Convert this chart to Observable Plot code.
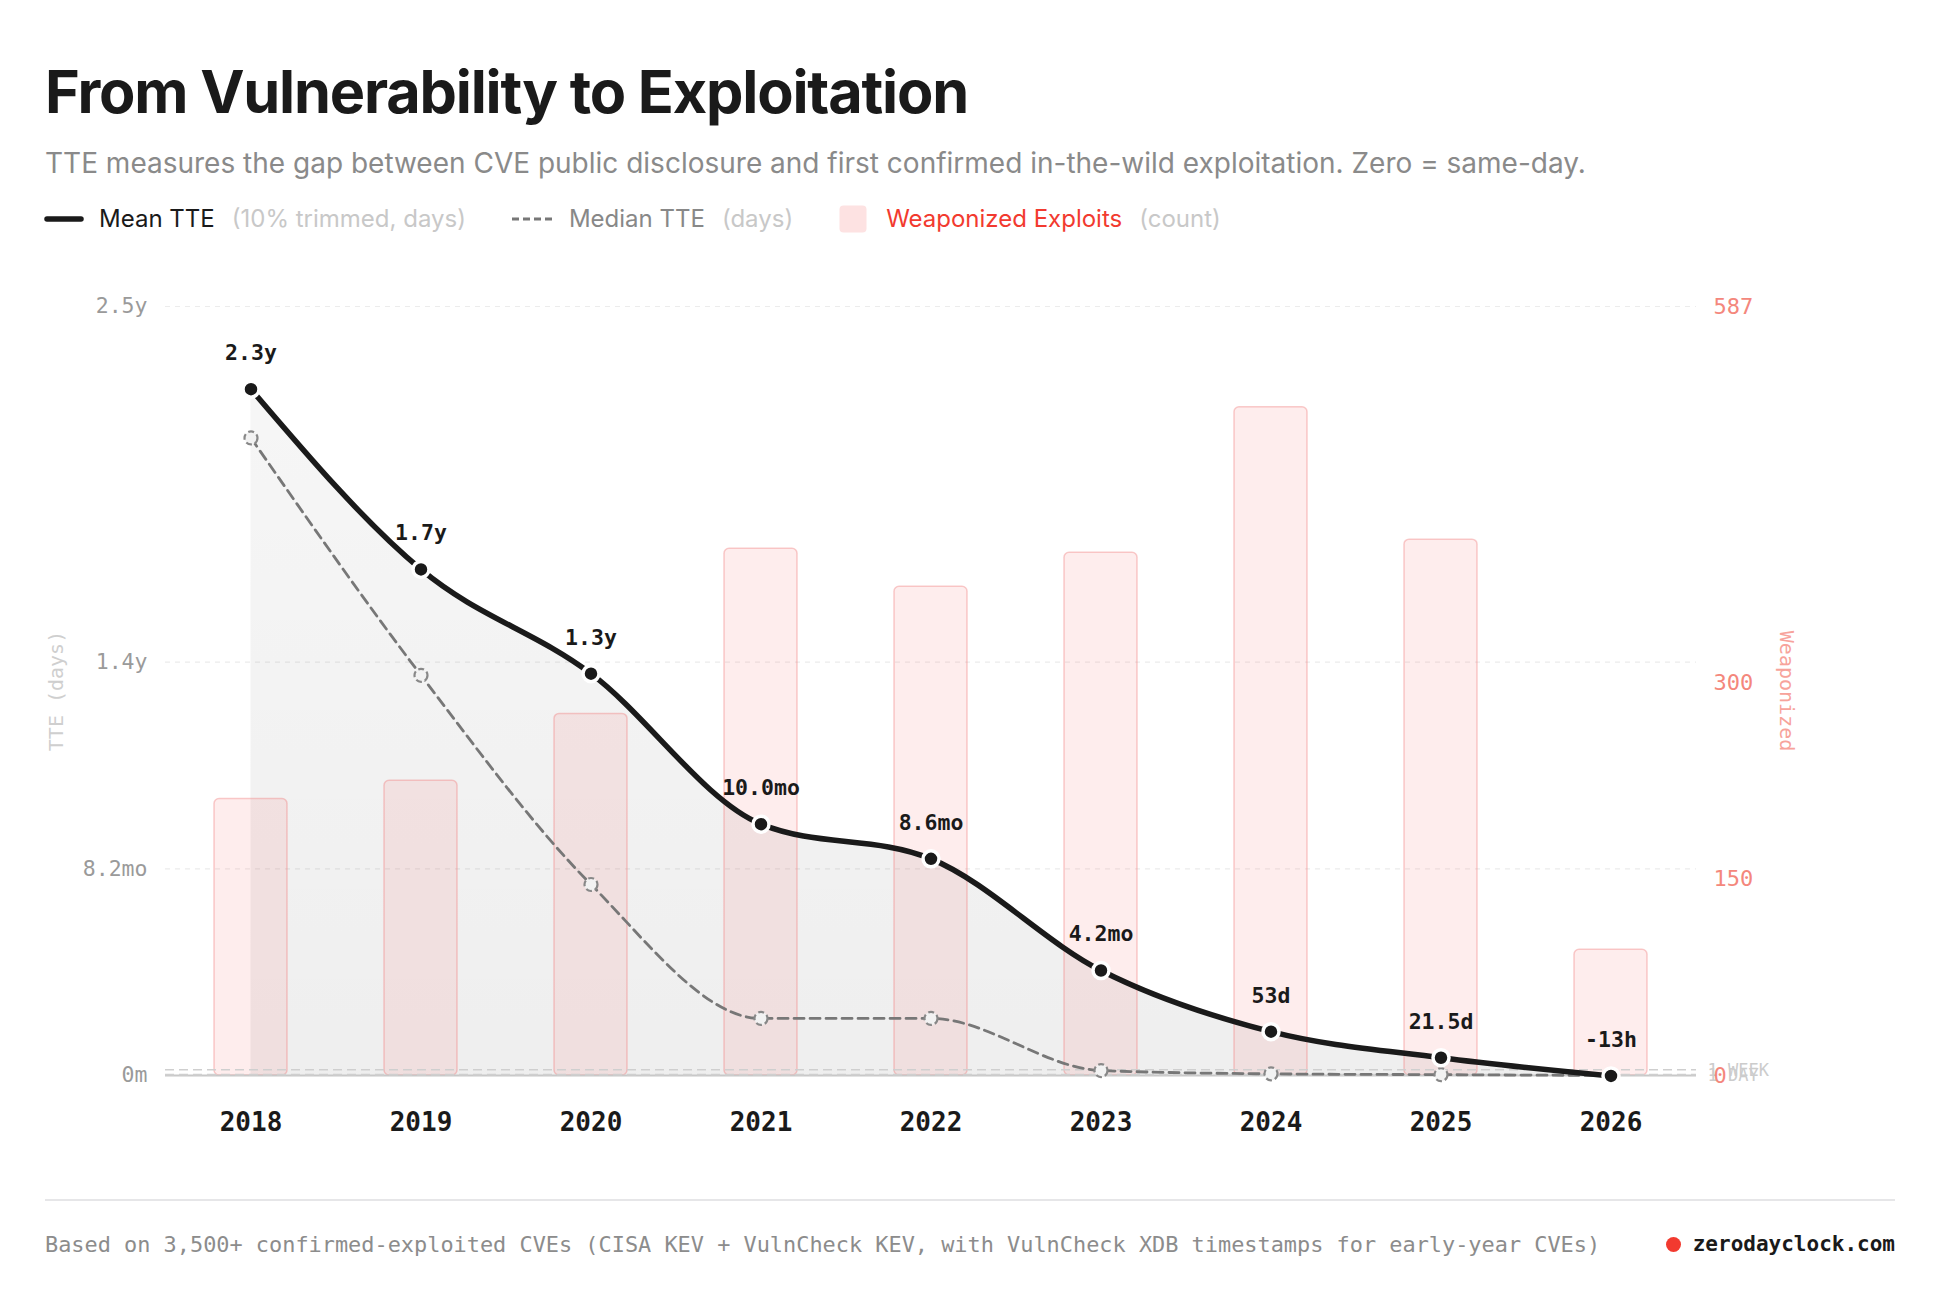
<!DOCTYPE html>
<html>
<head>
<meta charset="utf-8">
<script src="https://cdn.jsdelivr.net/npm/d3@7"></script>
<script src="https://cdn.jsdelivr.net/npm/@observablehq/plot@0.6"></script>
<style>
  html, body { margin: 0; padding: 0; background: #fff; }
  body { width: 1942px; height: 1312px; position: relative; overflow: hidden; font-family: Inter, "Noto Sans", sans-serif; }
  .abs { position: absolute; white-space: nowrap; line-height: 1; }
  #title { left: 45px; top: 62px; font-size: 59.4px; font-weight: 700; letter-spacing: -0.02em; color: #1a1a1a; }
  #subtitle { left: 45px; top: 149px; font-size: 28px; color: #8a8a8a; }
  #legend { left: 44px; top: 205px; font-size: 24px; display: flex; align-items: center; }
  #legend .item { display: flex; align-items: center; margin-right: 46px; }
  #legend .sw { display: block; }
  #legend .muted { color: #c8c8c8; margin-left: 17px; }
  #chart { position: absolute; left: 0; top: 250px; }
  #rule { position: absolute; left: 45px; width: 1850px; top: 1199px; height: 2px; background: #e6e6e8; }
  #foot { left: 45px; top: 1234px; font-family: "DejaVu Sans Mono", monospace; font-size: 21.9px; color: #8c8c8c; }
  #brand { right: 47px; top: 1234px; font-family: "DejaVu Sans Mono", monospace; font-size: 21px; font-weight: 700; color: #1a1a1a; display: flex; align-items: center; }
  #brand .dot { width: 15px; height: 15px; border-radius: 50%; background: #f23a2f; margin-right: 12px; }
</style>
</head>
<body>
<div id="title" class="abs">From Vulnerability to Exploitation</div>
<div id="subtitle" class="abs">TTE measures the gap between CVE public disclosure and first confirmed in-the-wild exploitation. Zero = same-day.</div>
<div id="legend" class="abs">
  <div class="item">
    <svg class="sw" width="40" height="8" style="margin-right:15px"><line x1="3" y1="4" x2="37" y2="4" stroke="#1a1a1a" stroke-width="5.5" stroke-linecap="round"/></svg>
    <span style="color:#1a1a1a">Mean TTE</span><span class="muted">(10% trimmed, days)</span>
  </div>
  <div class="item">
    <svg class="sw" width="41" height="8" style="margin-right:16px"><line x1="0" y1="4" x2="41" y2="4" stroke="#777" stroke-width="3" stroke-dasharray="7,4"/></svg>
    <span style="color:#888">Median TTE</span><span class="muted">(days)</span>
  </div>
  <div class="item">
    <svg class="sw" width="28" height="28" style="margin-right:19px"><rect x="0.5" y="0.5" width="27" height="27" rx="4" fill="#fde2e2"/></svg>
    <span style="color:#f23a2f">Weaponized Exploits</span><span class="muted">(count)</span>
  </div>
</div>
<div id="chart"></div>
<div id="rule"></div>
<div id="foot" class="abs">Based on 3,500+ confirmed-exploited CVEs (CISA KEV + VulnCheck KEV, with VulnCheck XDB timestamps for early-year CVEs)</div>
<div id="brand" class="abs"><span class="dot"></span>zerodayclock.com</div>
<script>
// ---- data ----
const years = ["2018", "2019", "2020", "2021", "2022", "2023", "2024", "2025", "2026"];
const meanTTE = [830, 612, 486, 304, 262, 127, 53, 21.5, -0.54];      // days
const medianTTE = [771, 484, 231, 69, 69, 6, 2, 1, 0];               // days
const weaponized = [211, 225, 276, 402, 373, 399, 510, 409, 96];      // count
const tteTicks = [0, 250, 500, 930];                                   // days
const countTicks = [0, 150, 300, 587];
const refLines = [7, 1];
const refLabels = ["1 WEEK", "1 DAY"];

const yMax = 930, countMax = 587;
const k = yMax / countMax;

function fmt(d) {
  if (d === 0) return "0m";
  if (d >= 365) return (d / 365).toFixed(1) + "y";
  if (d >= 60) return (d / 30.44).toFixed(1) + "mo";
  if (d >= 30) return Math.round(d) + "d";
  if (d >= 1) return d.toFixed(1) + "d";
  return Math.round(d * 24) + "h";
}

const rows = years.map((y, i) => ({year: y, mean: meanTTE[i], median: medianTTE[i], count: weaponized[i]}));
const refs = refLines.map((v, i) => ({v, label: refLabels[i]}));
const mono = "'DejaVu Sans Mono', 'Liberation Mono', monospace";

const plot = Plot.plot({
  width: 1942,
  height: 920,
  marginLeft: 165,
  marginRight: 246,
  marginTop: 56,
  marginBottom: 95,
  style: {fontFamily: mono, background: "transparent", overflow: "visible"},
  x: {type: "band", domain: years, paddingInner: 0.57, paddingOuter: 0.28, label: null},
  y: {domain: [0, yMax], label: null},
  marks: [
    Plot.ruleY(tteTicks.slice(1), {stroke: "#ececec", strokeWidth: 1.2, strokeDasharray: "5,5"}),
    Plot.areaY(rows, {x: "year", y: "mean", curve: "monotone-x", fill: "url(#areaGrad)"}),
    Plot.barY(rows, {x: "year", y: d => d.count * k, fill: "#f87171", fillOpacity: 0.13, stroke: "#f08080", strokeOpacity: 0.4, strokeWidth: 1.5, rx: 5}),
    Plot.ruleY([0], {stroke: "#c8c8c8", strokeWidth: 2}),
    Plot.ruleY(refs, {y: "v", stroke: "#cfcfcf", strokeWidth: 1.6, strokeDasharray: "9,5"}),
    Plot.line(rows, {x: "year", y: "median", curve: "monotone-x", stroke: "#777", strokeWidth: 2.8, strokeDasharray: "10,6"}),
    Plot.dot(rows, {x: "year", y: "median", r: 6.5, fill: "#f2f2f2", stroke: "#888", strokeWidth: 2.2, strokeDasharray: "6,3"}),
    Plot.line(rows, {x: "year", y: "mean", curve: "monotone-x", stroke: "#1a1a1a", strokeWidth: 5.5}),
    Plot.dot(rows, {x: "year", y: "mean", r: 8, fill: "#1a1a1a", stroke: "#fff", strokeWidth: 3.5}),
    Plot.text(rows, {x: "year", y: "mean", text: d => fmt(d.mean), dy: -36, fontFamily: mono, fontSize: 21.5, fontWeight: "bold", fill: "#1a1a1a"}),
    Plot.text(refs, {y: "v", text: "label", frameAnchor: "right", dx: 11, textAnchor: "start", fontFamily: mono, fontSize: 17, fill: "#cccccc", dy: 1}),
    Plot.axisY(tteTicks, {anchor: "left", tickSize: 0, tickPadding: 18, tickFormat: fmt, fontSize: 21.5, color: "#9a9a9a", label: null}),
    Plot.axisY(countTicks.map(c => c * k), {anchor: "right", tickSize: 0, tickPadding: 17, tickFormat: d => String(Math.round(d / k)), fontSize: 22, color: "#f4877c", label: null}),
    Plot.axisX({anchor: "bottom", tickSize: 0, tickPadding: 37, fontSize: 26, fontWeight: "bold", color: "#1a1a1a", label: null}),
    Plot.text(["TTE (days)"], {text: d => d, frameAnchor: "left", dx: -109, rotate: -90, textAnchor: "middle", fontFamily: mono, fontSize: 20, fill: "#cfcfcf"}),
    Plot.text(["Weaponized"], {text: d => d, frameAnchor: "right", dx: 90, rotate: 90, textAnchor: "middle", fontFamily: mono, fontSize: 20, fill: "#f7a39b"})
  ]
});

// gradient for the area under the mean line
const svg = d3.select(plot);
const defs = svg.insert("defs", ":first-child");
const g = defs.append("linearGradient").attr("id", "areaGrad").attr("x1", 0).attr("y1", 0).attr("x2", 0).attr("y2", 1);
g.append("stop").attr("offset", "0%").attr("stop-color", "#000").attr("stop-opacity", 0.035);
g.append("stop").attr("offset", "100%").attr("stop-color", "#000").attr("stop-opacity", 0.065);

document.getElementById("chart").appendChild(plot);
</script>
</body>
</html>
